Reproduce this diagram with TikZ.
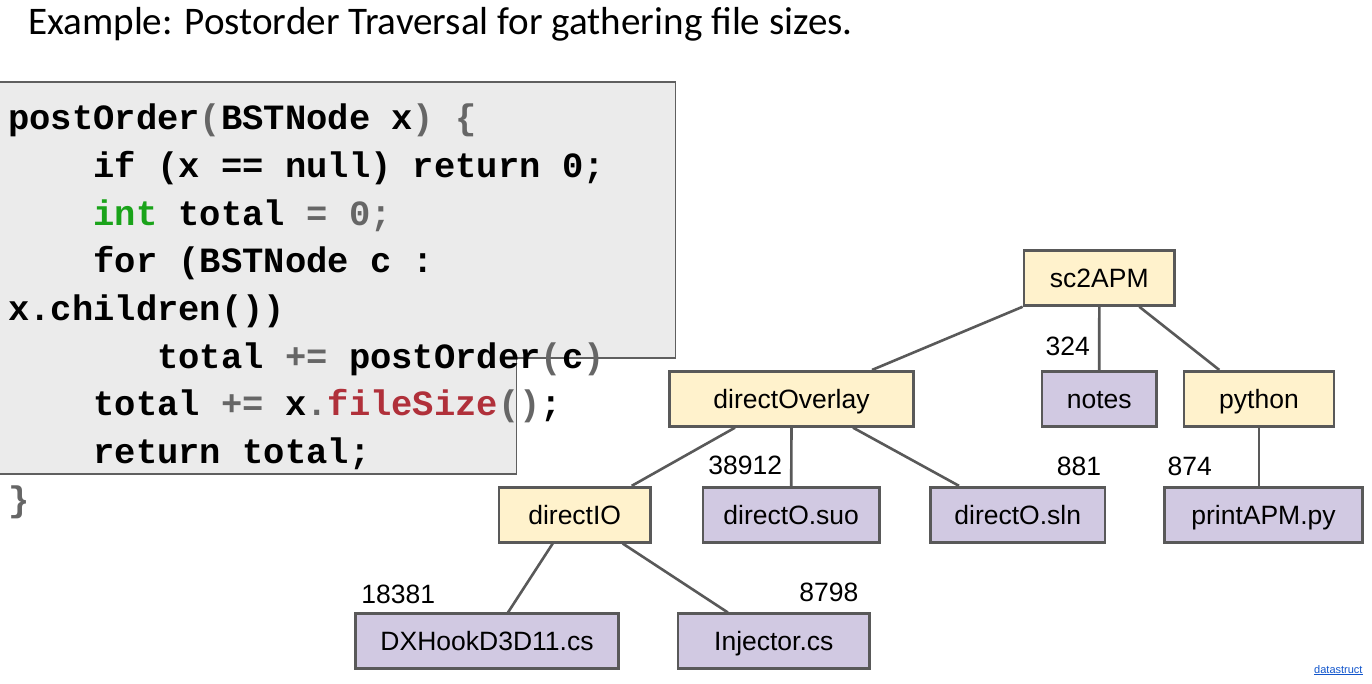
\documentclass[tikz,border=0pt]{standalone}
\usepackage{fontspec}
\setmainfont{Liberation Sans}
\newfontfamily\titlefont{Carlito}
\newfontfamily\codefont{Liberation Mono}
\newfontfamily\treefont{Liberation Sans}
\definecolor{codebg}{HTML}{EBEBEB}
\definecolor{codeedge}{HTML}{5F5F5F}
\definecolor{kgraycol}{HTML}{666666}
\definecolor{kgreencol}{HTML}{1AA31A}
\definecolor{kredcol}{HTML}{B0303A}
\definecolor{lineg}{HTML}{595959}
\definecolor{fillyel}{HTML}{FFF2CC}
\definecolor{fillpur}{HTML}{D1C9E2}
\definecolor{linkblue}{HTML}{1155CC}
\newcommand\kgray[1]{\textcolor{kgraycol}{#1}}
\newcommand\kgreen[1]{\textcolor{kgreencol}{#1}}
\newcommand\kred[1]{\textcolor{kredcol}{#1}}
\tikzset{
  codeline/.style={anchor=base west, inner sep=0pt, font=\codefont\bfseries\fontsize{35.5}{40}\selectfont\frenchspacing},
  treebox/.style={draw=lineg, line width=2.7pt, minimum height=55pt, inner sep=0pt,
    font=\treefont\fontsize{26.5}{30}\selectfont, text height=19pt, text depth=0pt},
  dirbox/.style={treebox, fill=fillyel},
  filebox/.style={treebox, fill=fillpur},
  sizelabel/.style={inner sep=0pt, font=\treefont\fontsize{26.5}{30}\selectfont},
  edge/.style={draw=lineg, line width=2.6pt}
}
\begin{document}
\begin{tikzpicture}[x=1pt,y=-1pt]
\useasboundingbox[fill=white] (0,0) rectangle (1372,684);
% title
\node[anchor=base west, inner sep=0pt, font=\titlefont\fontsize{39.1}{44}\selectfont] (title) at (28,35)
  {Example: Postorder Traversal for gathering file sizes.};
% code background
\draw[fill=codebg, draw=codeedge, line width=1.3pt]
  (-2,82) -- (675.5,82) -- (675.5,358) -- (516.5,358) -- (516.5,474) -- (-2,474) -- cycle;
% code lines
\node[codeline] (c1) at (8,130) {postOrder\kgray{(}BSTNode x\kgray{)} \kgray{\{}};
\node[codeline] (c2) at (93.2,177.65) {if (x == null) return 0;};
\node[codeline] (c3) at (93.2,225.3) {\kgreen{int} total \kgray{= 0;}};
\node[codeline] (c4) at (93.2,272.95) {for (BSTNode c :};
\node[codeline] (c5) at (8,320.6) {x.children())};
\node[codeline] (c6) at (157.1,368.25) {total \kgray{+=} postOrder\kgray{(}c\kgray{)}};
\node[codeline] (c7) at (93.2,415.9) {total \kgray{+=} x\kgray{.}\kred{fileSize}\kgray{()};};
\node[codeline] (c8) at (93.2,463.55) {return total;};
\node[codeline] (c9) at (8,511.2) {\kgray{\}}};
% tree nodes
\node[dirbox, minimum width=150.6pt] (sc) at (1099.3,277.9) {sc2APM};
\node[dirbox, minimum width=244.3pt] (dov) at (791.5,398.8) {directOverlay};
\node[filebox, minimum width=114.3pt] (notes) at (1099.2,398.8) {notes};
\node[dirbox, minimum width=149.9pt] (py) at (1259,398.8) {python};
\node[dirbox, minimum width=151.3pt] (dio) at (574.7,514.7) {directIO};
\node[filebox, minimum width=176.3pt] (suo) at (791.2,514.7) {directO.suo};
\node[filebox, minimum width=174.8pt] (sln) at (1017.7,514.7) {directO.sln};
\node[filebox, minimum width=198.3pt] (pa) at (1263.5,514.7) {printAPM.py};
\node[filebox, minimum width=262.4pt] (dx) at (487,641.3) {DXHookD3D11.cs};
\node[filebox, minimum width=191.6pt] (inj) at (773.8,641.3) {Injector.cs};
% connectors
\draw[edge] (sc.south west) -- ([xshift=80.5pt]dov.north);
\draw[edge] (sc.south) -- (notes.north);
\draw[edge] ([xshift=40pt]sc.south) -- ([xshift=-39.7pt]py.north);
\draw[edge] ([xshift=-56.5pt]dov.south) -- ([xshift=57pt]dio.north);
\draw[edge] (dov.south) -- (suo.north);
\draw[edge] ([xshift=61.5pt]dov.south) -- ([xshift=-58.7pt]sln.north);
\draw[edge] (py.south) -- (py.south |- pa.north);
\draw[edge] ([xshift=-22pt]dio.south) -- ([xshift=21pt]dx.north);
\draw[edge] ([xshift=48pt]dio.south) -- ([xshift=-46pt]inj.north);
% size labels
\node[sizelabel] (s324) at (1067.8,346.5) {324};
\node[sizelabel] (s38912) at (745.2,465.5) {38912};
\node[sizelabel] (s881) at (1078.9,466) {881};
\node[sizelabel] (s874) at (1189.8,466) {874};
\node[sizelabel] (s18381) at (398.3,594) {18381};
\node[sizelabel] (s8798) at (828.8,592.5) {8798};
% link
\node[anchor=base west, inner sep=0pt, text=linkblue, font=\treefont\fontsize{11}{13}\selectfont] (link) at (1314,673) {\underline{datastruct}};
\end{tikzpicture}
\end{document}
